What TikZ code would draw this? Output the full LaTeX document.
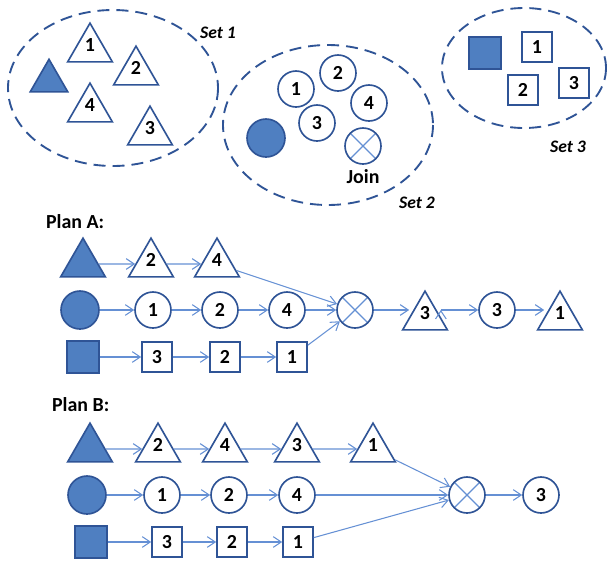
\documentclass[tikz,border=0pt]{standalone}
\usepackage{fontspec}
\setmainfont{Carlito}
\usepackage{xcolor}
\usetikzlibrary{shapes.geometric,arrows.meta,positioning}

\definecolor{edgeblue}{HTML}{2F5496}
\definecolor{fillblue}{HTML}{4F7FC1}
\definecolor{arrowblue}{HTML}{6590D4}

\begin{document}
\begin{tikzpicture}[x=0.3mm, y=-0.3mm, >={Straight Barb[length=2.4mm,width=3.2mm]},
		font=\fontsize{17}{20}\selectfont\bfseries,
		base/.style={draw=edgeblue, line width=1.4pt, fill=white, inner sep=0pt, text=black},
		tri/.style={base, regular polygon, regular polygon sides=3, minimum size=15.5mm, text height=1.5mm, text depth=0pt},
		rel/.style={base, circle, minimum size=10.8mm},
		sq/.style={base, rectangle, minimum size=9mm},
		filled/.style={fill=fillblue},
		joinop/.style={rel, path picture={\draw[arrowblue, line width=1pt] (path picture bounding box.south west) -- (path picture bounding box.north east) (path picture bounding box.north west) -- (path picture bounding box.south east);}},
		setline/.style={draw=edgeblue, line width=1.6pt, dash pattern=on 3.6mm off 2.1mm},
		setlabel/.style={font=\fontsize{15}{18}\selectfont\bfseries\itshape},
		flow/.style={->, draw=arrowblue, line width=0.9pt}]
	\useasboundingbox (0,0) rectangle (607,561);

	% the three sets
	\draw[setline] (113,88) ellipse [x radius=105, y radius=78];
	\draw[setline] (328,125) ellipse [x radius=105, y radius=80];
	\draw[setline] (524,68) ellipse [x radius=82, y radius=60];
	\node[setlabel] (set1) at (218,33) {Set 1};
	\node[setlabel] (set2) at (417,203) {Set 2};
	\node[setlabel] (set3) at (568,147) {Set 3};

	\node[tri, filled, minimum size=13mm] (s1t0) at (49,81) {};
	\node[tri] (s1t1) at (90,49) {1};
	\node[tri] (s1t2) at (136,72) {2};
	\node[tri] (s1t4) at (90,109) {4};
	\node[tri] (s1t3) at (150,132) {3};

	\node[rel, filled, minimum size=11.4mm] (s2c0) at (266,138) {};
	\node[rel] (s2c1) at (296,89) {1};
	\node[rel] (s2c2) at (338,73) {2};
	\node[rel] (s2c4) at (369,103) {4};
	\node[rel] (s2c3) at (317,123) {3};
	\node[joinop] (s2j) at (363,146) {};
	\node (s2jl) at (363,177) {Join};

	\node[sq, filled, minimum size=9.6mm] (s3q0) at (485,53) {};
	\node[sq] (s3q1) at (537,47) {1};
	\node[sq] (s3q2) at (523,90) {2};
	\node[sq] (s3q3) at (574,83) {3};

	% plan A
	\node[anchor=west] (planA) at (42,222) {Plan A:};
	\node[tri, filled] (at0) at (83,264) {};
	\node[tri] (at2) at (151,264) {2};
	\node[tri] (at4) at (217,264) {4};
	\node[rel, filled, minimum size=11.4mm] (ac0) at (80,310) {};
	\node[rel] (ac1) at (153,310) {1};
	\node[rel] (ac2) at (220,310) {2};
	\node[rel] (ac4) at (287,310) {4};
	\node[sq, filled, minimum size=9.6mm] (aq0) at (83,357) {};
	\node[sq] (aq3) at (157,357) {3};
	\node[sq] (aq2) at (225,357) {2};
	\node[sq] (aq1) at (292,357) {1};
	\node[joinop] (aj) at (355,310) {};
	\node[tri] (at3) at (425,317) {3};
	\node[rel] (ac3) at (497,310) {3};
	\node[tri] (at1) at (560,317) {1};

	\path[flow] (at0) edge (at2);
	\path[flow] (at2) edge (at4);
	\path[flow] (at4) edge (aj);
	\path[flow] (ac0) edge (ac1);
	\path[flow] (ac1) edge (ac2);
	\path[flow] (ac2) edge (ac4);
	\path[flow] (ac4) edge (aj);
	\path[flow] (aq0) edge (aq3);
	\path[flow] (aq3) edge (aq2);
	\path[flow] (aq2) edge (aq1);
	\path[flow] (aq1) edge (aj);
	\path[flow] (aj) edge (at3.west |- aj);
	\path[flow] (at3.east |- ac3) edge (ac3);
	\path[flow] (ac3) edge (at1.west |- ac3);

	% plan B
	\node[anchor=west] (planB) at (48,405) {Plan B:};
	\node[tri, filled] (bt0) at (90,449) {};
	\node[tri] (bt2) at (158,449) {2};
	\node[tri] (bt4) at (225,449) {4};
	\node[tri] (bt3) at (297,449) {3};
	\node[tri] (bt1) at (373,449) {1};
	\node[rel, filled, minimum size=11.4mm] (bc0) at (87,495) {};
	\node[rel] (bc1) at (162,495) {1};
	\node[rel] (bc2) at (229,495) {2};
	\node[rel] (bc4) at (297,495) {4};
	\node[sq, filled, minimum size=9.6mm] (bq0) at (91,542) {};
	\node[sq] (bq3) at (167,542) {3};
	\node[sq] (bq2) at (232,542) {2};
	\node[sq] (bq1) at (298,542) {1};
	\node[joinop] (bj) at (467,495) {};
	\node[rel] (bc3) at (541,495) {3};

	\path[flow] (bt0) edge (bt2);
	\path[flow] (bt2) edge (bt4);
	\path[flow] (bt4) edge (bt3);
	\path[flow] (bt3) edge (bt1);
	\path[flow] (bt1) edge (bj);
	\path[flow] (bc0) edge (bc1);
	\path[flow] (bc1) edge (bc2);
	\path[flow] (bc2) edge (bc4);
	\path[flow] (bc4) edge (bj);
	\path[flow] (bq0) edge (bq3);
	\path[flow] (bq3) edge (bq2);
	\path[flow] (bq2) edge (bq1);
	\path[flow] (bq1) edge (bj);
	\path[flow] (bj) edge (bc3);
\end{tikzpicture}
\end{document}
